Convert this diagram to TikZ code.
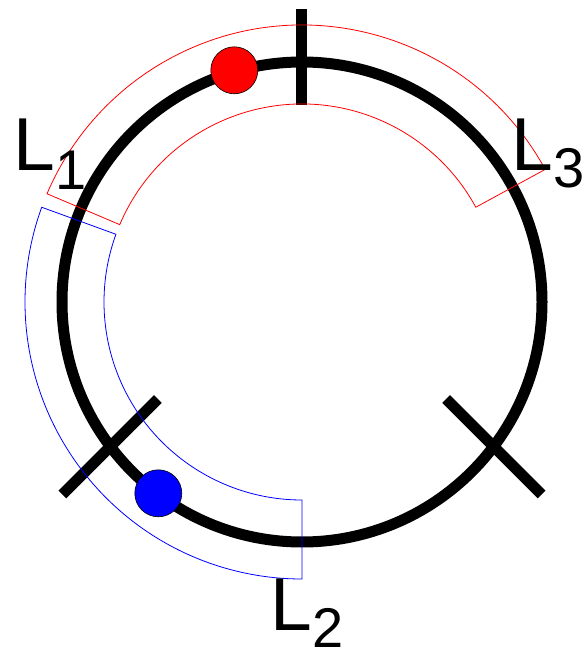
\documentclass[tikz,border=0pt]{standalone}
\usepackage{fontspec}
\setmainfont{Liberation Sans}
\begin{document}
\begin{tikzpicture}[x=1pt,y=1pt,
  ring/.style={line width=11pt},
  tickmark/.style={line width=11pt},
  sectorred/.style={draw=red,line width=0.8pt},
  sectorblue/.style={draw=blue,line width=0.8pt},
  dot/.style={circle,draw=black,line width=0.6pt,inner sep=0pt,minimum size=47pt},
  lbl/.style={anchor=base west,inner sep=0pt,font=\fontsize{75}{75}\selectfont}]
\useasboundingbox (0,0) rectangle (585,651);
\coordinate (C) at (302,349);
% main ring
\draw[ring] (C) circle[radius=240];
% ticks
\coordinate (t1a) at (301,641.7);
\coordinate (t1b) at (301,545.7);
\coordinate (t2a) at (157.8,252);
\coordinate (t2b) at (62.3,156.5);
\coordinate (t3a) at (446.2,252);
\coordinate (t3b) at (541.7,156.5);
\draw[tickmark] (t1a) -- (t1b);
\draw[tickmark] (t2a) -- (t2b);
\draw[tickmark] (t3a) -- (t3b);
% sectors
\begin{scope}[shift={(C)}]
\draw[sectorred] (28.6:277) arc[start angle=28.6,end angle=157,radius=277]
  -- (157:198) arc[start angle=157,end angle=28.6,radius=198] -- cycle;
\draw[sectorblue] (160:277) arc[start angle=160,end angle=270,radius=277]
  -- (270:198) arc[start angle=270,end angle=160,radius=198] -- cycle;
\end{scope}
% dots
\node[dot,fill=red] (rd) at (234.3,580.7) {};
\node[dot,fill=blue] (bd) at (158.3,157.7) {};
% labels
\node[lbl] (l1) at (13.5,480.3) {L\raisebox{-18.5pt}{\fontsize{56}{56}\selectfont 1}};
\node[lbl] (l3) at (511.2,480.3) {L\raisebox{-17pt}{\fontsize{56}{56}\selectfont 3}};
\node[lbl] (l2) at (270.2,20.3) {L\raisebox{-17pt}{\fontsize{56}{56}\selectfont 2}};
\end{tikzpicture}
\end{document}
